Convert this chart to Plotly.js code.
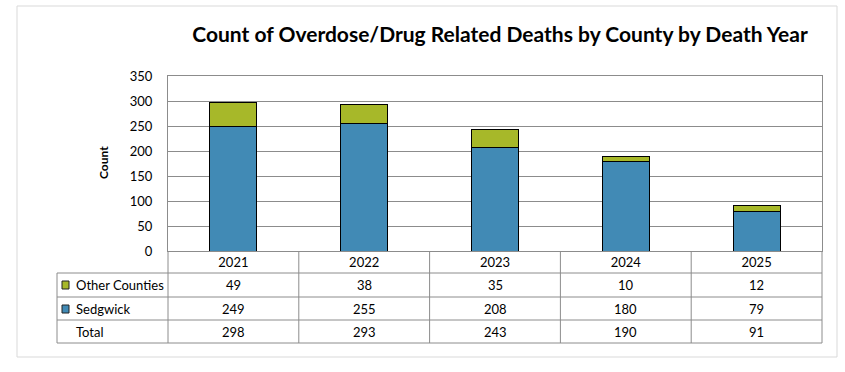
<!DOCTYPE html>
<html>
<head>
<meta charset="utf-8">
<script src="https://cdn.plot.ly/plotly-3.0.1.min.js"></script>
<style>html,body{margin:0;padding:0;background:#fff;}#chart{width:845px;height:372px;}</style>
</head>
<body>
<div id="chart"></div>
<script>
const years = ['2021', '2022', '2023', '2024', '2025'];
const sedgwick = [249, 255, 208, 180, 79];
const otherCounties = [49, 38, 35, 10, 12];
const totals = [298, 293, 243, 190, 91];
const rowLabels = ['Other Counties', 'Sedgwick', 'Total'];

const FONT = 'Lato, "Open Sans", sans-serif';
const GRID = '#8c8c8c';
const BLUE = '#418ab5';
const GREEN = '#a7b829';

// pixel helpers (plot area: left 168, right 822, top 76, bottom 251)
const L = 168, R = 822, T = 76, B = 251;
const px = v => (v - L) / (R - L);
const py = v => (B - v) / (B - T);

const traces = [
  {type: 'bar', name: 'Sedgwick', x: years, y: sedgwick, width: 0.36,
   marker: {color: BLUE, line: {color: '#000', width: 1}}, hoverinfo: 'none'},
  {type: 'bar', name: 'Other Counties', x: years, y: otherCounties, width: 0.36,
   marker: {color: GREEN, line: {color: '#000', width: 1}}, hoverinfo: 'none'}
];

const rowCenters = [285, 308.5, 331.5];
const rowValues = [otherCounties, sedgwick, totals];

const annotations = [];
rowValues.forEach((vals, r) => {
  vals.forEach((v, i) => {
    annotations.push({xref: 'x', yref: 'paper', x: i, y: py(rowCenters[r]),
      text: String(v), showarrow: false, xanchor: 'center', yanchor: 'middle',
      font: {family: FONT, size: 13, color: '#000'}});
  });
  annotations.push({xref: 'paper', yref: 'paper', x: px(74), y: py(rowCenters[r]),
    text: rowLabels[r], showarrow: false, xanchor: 'left', yanchor: 'middle',
    font: {family: FONT, size: 13, color: '#000'}});
});
annotations.push({xref: 'paper', yref: 'paper', x: px(103), y: py(163), text: '<b>Count</b>',
  textangle: -90, showarrow: false, xanchor: 'center', yanchor: 'middle',
  font: {family: FONT, size: 12, color: '#000'}});

const shapes = [];
const line = {color: GRID, width: 1};
// outer frame
shapes.push({type: 'rect', xref: 'paper', yref: 'paper', x0: px(17), x1: px(837), y0: py(357), y1: py(6),
  line: {color: '#d9d9d9', width: 1}, fillcolor: 'rgba(0,0,0,0)', layer: 'below'});
// horizontal table lines
[273, 297, 320, 343].forEach(yy => {
  shapes.push({type: 'line', xref: 'paper', yref: 'paper', x0: px(57), x1: 1, y0: py(yy), y1: py(yy), line});
});
// vertical table lines
shapes.push({type: 'line', xref: 'paper', yref: 'paper', x0: px(57), x1: px(57), y0: py(273), y1: py(343), line});
shapes.push({type: 'line', xref: 'paper', yref: 'paper', x0: 0, x1: 0, y0: 0, y1: py(343), line});
shapes.push({type: 'line', xref: 'paper', yref: 'paper', x0: 1, x1: 1, y0: 0, y1: py(343), line});
for (let i = 0; i < years.length - 1; i++) {
  shapes.push({type: 'line', xref: 'x', yref: 'paper', x0: i + 0.5, x1: i + 0.5, y0: 0, y1: py(343), line});
}
// legend keys
[[GREEN, 281, 289], [BLUE, 305, 313]].forEach(([c, y0, y1]) => {
  shapes.push({type: 'rect', xref: 'paper', yref: 'paper', x0: px(62), x1: px(69), y0: py(y1), y1: py(y0),
    line: {color: '#222', width: 1}, fillcolor: c});
});

const layout = {
  width: 845, height: 372,
  margin: {l: L, r: 845 - R, t: T, b: 372 - B, pad: 0},
  paper_bgcolor: '#fff', plot_bgcolor: '#fff',
  barmode: 'stack', showlegend: false,
  font: {family: FONT, size: 13, color: '#000'},
  title: {text: '<b>Count of Overdose/Drug Related Deaths by County by Death Year</b>',
    font: {family: FONT, size: 21, color: '#000'}, xref: 'container', yref: 'container',
    x: 500 / 845, xanchor: 'center', y: 1 - 35 / 372, yanchor: 'middle'},
  xaxis: {type: 'category', range: [-0.5, 4.5], showgrid: false, zeroline: false,
    showline: true, linecolor: GRID, linewidth: 1, mirror: true, ticks: '',
    tickfont: {family: FONT, size: 13, color: '#000'}, ticklabelstandoff: -1, fixedrange: true},
  yaxis: {range: [0, 350], dtick: 50, showgrid: true, gridcolor: GRID, gridwidth: 1,
    zeroline: false, showline: true, linecolor: GRID, linewidth: 1, mirror: true,
    ticks: '', ticklabelstandoff: 12,
    tickfont: {family: FONT, size: 13, color: '#000'}, fixedrange: true},
  shapes, annotations
};

Plotly.newPlot('chart', traces, layout, {displayModeBar: false, staticPlot: true});
</script>
</body>
</html>
